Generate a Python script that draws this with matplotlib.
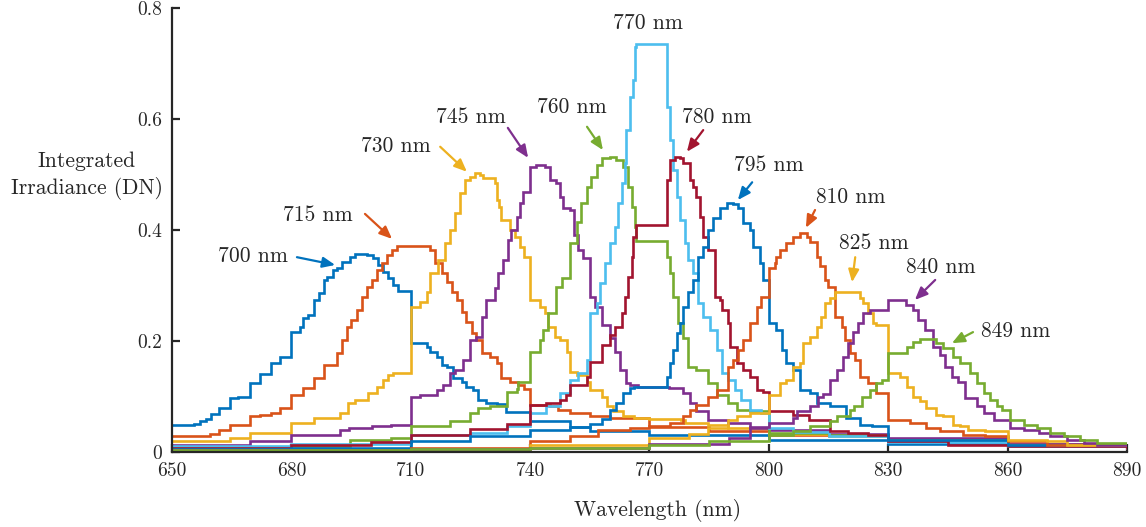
import matplotlib
matplotlib.use("Agg")
import matplotlib.pyplot as plt

plt.rcParams['font.family'] = ['cmr10', 'DejaVu Serif']
plt.rcParams['axes.formatter.use_mathtext'] = True

# ---- data: (wavelength nm, integrated irradiance) stair breakpoints ----
s700 = [(650, 0.048), (655.5, 0.050), (657, 0.055), (658.5, 0.060), (659.8, 0.068), (661.7, 0.079),
        (664.7, 0.097), (666.5, 0.100), (669.7, 0.125), (672.2, 0.140), (675, 0.160), (677.2, 0.172),
        (680, 0.217), (682.2, 0.226), (683, 0.241), (684.3, 0.247), (685.6, 0.274), (686.9, 0.286),
        (688.1, 0.310), (689, 0.316), (690.5, 0.328), (691.5, 0.331), (692.7, 0.343), (694.7, 0.352),
        (696, 0.357), (699, 0.355), (700.5, 0.349), (701.8, 0.337), (703.1, 0.325), (704.4, 0.313),
        (705.6, 0.301), (706.9, 0.290), (710, 0.196), (714, 0.190), (714.8, 0.180), (716.5, 0.172),
        (717.8, 0.157), (719, 0.154), (720.7, 0.133), (722.8, 0.127), (724, 0.118), (725.7, 0.112),
        (727, 0.094), (729, 0.088), (731.6, 0.086), (734, 0.072), (740, 0.055), (750, 0.045),
        (755, 0.038), (770, 0.030), (800, 0.021), (830, 0.015), (860, 0.010), (890, 0.010)]
s715 = [(650, 0.029), (659.6, 0.033), (661.7, 0.039), (664.7, 0.048), (669.7, 0.064), (672.2, 0.067),
        (675, 0.070), (677.2, 0.079), (680, 0.103), (683, 0.115), (685.6, 0.133), (688.1, 0.157),
        (691.4, 0.178), (692.6, 0.202), (693.9, 0.226), (695.1, 0.238), (696.4, 0.256), (697.7, 0.280),
        (698.9, 0.298), (700.2, 0.310), (701.4, 0.328), (702.7, 0.340), (704, 0.355), (705.2, 0.364),
        (706.5, 0.372), (714.8, 0.364), (716, 0.340), (717.8, 0.322), (719, 0.307), (720.3, 0.289),
        (721.5, 0.274), (722.8, 0.253), (724, 0.235), (725.3, 0.214), (726.5, 0.202), (727.8, 0.178),
        (729.9, 0.172), (731.6, 0.160), (732.8, 0.133), (734.9, 0.127), (737, 0.121), (738.5, 0.114),
        (740, 0.085), (745, 0.082), (747, 0.076), (750, 0.070), (755, 0.064), (760, 0.062),
        (770, 0.045), (785, 0.038), (800, 0.030), (830, 0.022), (860, 0.015), (890, 0.015)]
s730 = [(650, 0.019), (664.7, 0.025), (669.7, 0.035), (680, 0.052), (685.6, 0.061), (692.2, 0.070),
        (694.3, 0.088), (696, 0.094), (699.3, 0.106), (701.4, 0.118), (703.1, 0.130), (704.4, 0.139),
        (705.6, 0.142), (710, 0.262), (712.3, 0.271), (714, 0.289), (714.8, 0.322), (716.9, 0.346),
        (718.6, 0.376), (719.9, 0.400), (721.1, 0.430), (722.4, 0.466), (723.6, 0.490), (724.9, 0.496),
        (726.1, 0.502), (727.4, 0.500), (728.2, 0.494), (731.2, 0.484), (731.6, 0.454), (732.2, 0.442),
        (732.8, 0.418), (734.9, 0.400), (736.2, 0.388), (737.4, 0.370), (738.5, 0.352), (740, 0.274),
        (742.5, 0.262), (743.7, 0.250), (744.6, 0.226), (746.2, 0.208), (747.5, 0.202), (749.2, 0.181),
        (750, 0.145), (751.7, 0.139), (754.2, 0.127), (755, 0.112), (758, 0.100), (759.2, 0.082),
        (760.9, 0.073), (763.4, 0.064), (766, 0.061), (770, 0.060), (778, 0.058), (779, 0.052),
        (784.8, 0.049), (789.8, 0.043), (800, 0.033), (815, 0.028), (830, 0.022), (860, 0.015),
        (890, 0.012)]
s745 = [(650, 0.0125), (669.7, 0.019), (680, 0.031), (692.2, 0.040), (694.4, 0.043), (700.3, 0.047),
        (705, 0.049), (710, 0.100), (712.3, 0.103), (716.5, 0.112), (718.2, 0.121), (719.9, 0.142),
        (721.1, 0.148), (723.2, 0.166), (724.9, 0.202), (726.5, 0.208), (727.8, 0.244), (729, 0.274),
        (731.2, 0.295), (732, 0.322), (733.3, 0.346), (734.5, 0.382), (735.3, 0.400), (736.6, 0.424),
        (737.4, 0.448), (738.3, 0.469), (740, 0.514), (741.6, 0.517), (743.7, 0.514), (745, 0.490),
        (746.6, 0.484), (747.5, 0.460), (748.3, 0.439), (750, 0.436), (751, 0.391), (752.1, 0.364),
        (753.4, 0.349), (755, 0.280), (756.3, 0.262), (758, 0.229), (760, 0.205), (761.3, 0.181),
        (762.6, 0.148), (764.2, 0.124), (765.1, 0.121), (767, 0.118), (775, 0.115), (778.5, 0.106),
        (780.2, 0.088), (781.8, 0.073), (784.8, 0.058), (789.8, 0.052), (795.2, 0.043), (800, 0.040),
        (815, 0.033), (830, 0.025), (860, 0.015), (890, 0.010)]
s760 = [(650, 0.007), (680, 0.010), (694.7, 0.022), (705, 0.025), (710, 0.046), (719.9, 0.055),
        (724.9, 0.070), (727, 0.079), (730, 0.082), (734.1, 0.109), (736.6, 0.114), (737, 0.127),
        (740, 0.181), (742.5, 0.202), (743.3, 0.220), (744.6, 0.250), (746.6, 0.298), (748, 0.313),
        (750, 0.376), (751.7, 0.415), (752.9, 0.448), (754.2, 0.478), (755.4, 0.496), (756.7, 0.517),
        (758, 0.529), (760, 0.532), (761.7, 0.526), (763.4, 0.514), (764.7, 0.478), (765.5, 0.442),
        (766.3, 0.406), (766.7, 0.381), (774.3, 0.352), (775.1, 0.322), (776, 0.280), (777.2, 0.232),
        (778.5, 0.205), (779.7, 0.154), (781.8, 0.148), (784.8, 0.124), (786.9, 0.102), (789.8, 0.088),
        (791.9, 0.076), (795.2, 0.073), (800, 0.035), (815, 0.030), (830, 0.022), (860, 0.012),
        (890, 0.008)]
s770 = [(650, 0.010), (680, 0.014), (710, 0.030), (724.9, 0.034), (734.1, 0.046), (740, 0.070),
        (744.1, 0.082), (747.5, 0.106), (750, 0.130), (752, 0.142), (754.2, 0.166), (755, 0.250),
        (756.7, 0.268), (757.5, 0.304), (758.8, 0.340), (760, 0.376), (761.3, 0.406), (762.1, 0.448),
        (763, 0.484), (763.8, 0.520), (764.2, 0.580), (765.1, 0.640), (765.9, 0.670), (766.3, 0.730),
        (766.7, 0.736), (774.3, 0.622), (775.1, 0.562), (776, 0.508), (776.8, 0.460), (777.6, 0.418),
        (778.9, 0.376), (779.7, 0.346), (781, 0.322), (782.2, 0.268), (783.5, 0.244), (785.2, 0.220),
        (786.9, 0.184), (788.1, 0.142), (789.8, 0.130), (791.5, 0.112), (793.1, 0.094), (795.2, 0.076),
        (798, 0.070), (800, 0.043), (806, 0.036), (815, 0.028), (830, 0.018), (860, 0.010),
        (890, 0.008)]
s780 = [(650, 0.008), (680, 0.012), (700, 0.018), (710, 0.031), (724.9, 0.042), (734.1, 0.050),
        (740, 0.085), (744.1, 0.088), (747.5, 0.094), (749, 0.103), (750, 0.120), (754.2, 0.136),
        (755, 0.163), (758, 0.193), (760, 0.211), (761.3, 0.226), (763, 0.250), (763.8, 0.280),
        (764.7, 0.316), (765.5, 0.352), (765.9, 0.388), (766.7, 0.409), (774.3, 0.490), (775.1, 0.526),
        (776.4, 0.532), (777.6, 0.529), (778.5, 0.520), (780.2, 0.490), (781, 0.478), (781.8, 0.460),
        (782.7, 0.424), (783.5, 0.388), (784.8, 0.364), (786.4, 0.280), (787.7, 0.274), (788.1, 0.256),
        (789.8, 0.232), (790.2, 0.190), (791.9, 0.160), (793.5, 0.148), (795.2, 0.136), (796.9, 0.112),
        (798.6, 0.109), (800, 0.073), (806.1, 0.067), (810, 0.058), (815.3, 0.037), (820, 0.034),
        (825, 0.031), (830, 0.019), (845, 0.012), (860, 0.010), (890, 0.008)]
s795 = [(650, 0.006), (680, 0.008), (710, 0.019), (724.9, 0.028), (740, 0.040), (750, 0.045),
        (755, 0.050), (758, 0.060), (760, 0.076), (761.7, 0.088), (763.4, 0.106), (765.1, 0.115),
        (766, 0.117), (774.3, 0.136), (775.1, 0.160), (776, 0.184), (776.8, 0.214), (777.6, 0.232),
        (778.5, 0.262), (779.7, 0.289), (781, 0.310), (782.2, 0.352), (783.5, 0.370), (784.8, 0.400),
        (786, 0.421), (787.7, 0.439), (789.4, 0.448), (791, 0.447), (792.3, 0.439), (793.5, 0.412),
        (795.2, 0.400), (796, 0.370), (797.7, 0.340), (798.6, 0.310), (800, 0.232), (801.9, 0.220),
        (803.2, 0.184), (804.4, 0.160), (806.1, 0.148), (807.8, 0.112), (810.3, 0.106), (812, 0.088),
        (815.3, 0.082), (819.5, 0.061), (822.9, 0.049), (826, 0.046), (830, 0.022), (860, 0.013),
        (890, 0.012)]
s810 = [(650, 0.004), (710, 0.008), (740, 0.020), (750, 0.028), (757, 0.040), (765, 0.044),
        (770, 0.046), (775.1, 0.052), (778.5, 0.064), (780.2, 0.076), (781.8, 0.085), (784.8, 0.100),
        (786.9, 0.112), (789.8, 0.154), (791, 0.166), (792.3, 0.184), (793.5, 0.202), (795.2, 0.232),
        (796.9, 0.262), (798.1, 0.280), (800, 0.331), (801.5, 0.340), (801.9, 0.352), (802.8, 0.364),
        (804.4, 0.376), (806.1, 0.388), (807.8, 0.394), (809.5, 0.388), (810.3, 0.379), (812, 0.352),
        (812.8, 0.335), (814.1, 0.310), (814.9, 0.298), (816.6, 0.244), (818.3, 0.226), (819.1, 0.202),
        (820.3, 0.178), (821.6, 0.166), (822.9, 0.136), (825, 0.124), (827, 0.106), (830, 0.058),
        (835.4, 0.052), (839.6, 0.043), (843, 0.037), (848.8, 0.031), (854.2, 0.028), (860, 0.019),
        (870, 0.013), (890, 0.012)]
s825 = [(650, 0.003), (710, 0.006), (740, 0.012), (770, 0.025), (780, 0.033), (784.8, 0.043),
        (789.8, 0.058), (791.9, 0.064), (795.2, 0.070), (800, 0.102), (802.8, 0.124), (804.4, 0.130),
        (806.1, 0.154), (807.8, 0.160), (808.6, 0.196), (810.3, 0.208), (812, 0.226), (813, 0.244),
        (814.1, 0.268), (815.3, 0.277), (816.5, 0.289), (822.9, 0.277), (823.7, 0.268), (825, 0.250),
        (826.2, 0.232), (827, 0.229), (830, 0.142), (832.9, 0.136), (834.6, 0.118), (836.3, 0.100),
        (837.9, 0.091), (839.6, 0.079), (842.1, 0.067), (843.8, 0.064), (846.3, 0.049), (848, 0.046),
        (850, 0.040), (854.2, 0.037), (860, 0.022), (870, 0.019), (875, 0.013), (890, 0.012)]
s840 = [(650, 0.003), (710, 0.005), (740, 0.008), (770, 0.015), (790, 0.025), (795.2, 0.045),
        (800, 0.052), (806.1, 0.061), (807, 0.073), (810.3, 0.082), (812.4, 0.100), (813.6, 0.105),
        (815.3, 0.130), (817, 0.148), (818.7, 0.172), (819.9, 0.196), (821.2, 0.217), (822.4, 0.232),
        (823.7, 0.250), (825.4, 0.256), (830, 0.274), (834.5, 0.265), (836.3, 0.256), (837.5, 0.238),
        (839.2, 0.220), (841.3, 0.190), (843, 0.175), (844.2, 0.154), (845.9, 0.136), (847.6, 0.127),
        (849.2, 0.097), (852.3, 0.082), (854, 0.070), (856.5, 0.058), (860.6, 0.043), (864, 0.040),
        (867.8, 0.034), (870.7, 0.028), (874.9, 0.022), (879.1, 0.016), (882.4, 0.013), (890, 0.013)]
s849 = [(650, 0.003), (710, 0.005), (740, 0.008), (770, 0.012), (785, 0.020), (800, 0.031),
        (806, 0.037), (810.3, 0.046), (815.3, 0.055), (817, 0.064), (820.3, 0.076), (821.5, 0.082),
        (823.3, 0.100), (825.4, 0.112), (827, 0.124), (828.5, 0.130), (830, 0.178), (834.6, 0.190),
        (836.3, 0.199), (837.9, 0.203), (842.1, 0.196), (843.8, 0.187), (846.3, 0.172), (848, 0.160),
        (850.5, 0.142), (852.3, 0.124), (854, 0.106), (855.6, 0.094), (857.3, 0.082), (858.5, 0.076),
        (860.6, 0.058), (864, 0.049), (867.4, 0.043), (870.7, 0.034), (874.1, 0.028), (878.2, 0.022),
        (882.4, 0.016), (890, 0.016)]

series = [s700, s715, s730, s745, s760, s770, s780, s795, s810, s825, s840, s849]
labels = ['700 nm', '715 nm', '730 nm', '745 nm', '760 nm', '770 nm',
          '780 nm', '795 nm', '810 nm', '825 nm', '840 nm', '849 nm']
colors = ['#0072BD', '#D95319', '#EDB120', '#7E2F8E', '#77AC30', '#4DBEEE',
          '#A2142F', '#0072BD', '#D95319', '#EDB120', '#7E2F8E', '#77AC30']

# annotation anchors (data coords): text centre, arrow tail, arrow head
text_pos = [(670.4, 0.353), (686.7, 0.427), (706.3, 0.551), (725.1, 0.604), (750.5, 0.622),
            (769.6, 0.773), (787.0, 0.604), (800.0, 0.517), (820.6, 0.459), (826.4, 0.377),
            (843.3, 0.332), (862.1, 0.218)]
arrow_tail = [(681.4, 0.351), (698.5, 0.429), (717.4, 0.550), (734.4, 0.584), (754.3, 0.586),
              None, (783.5, 0.580), (795.8, 0.486), (811.6, 0.436), (821.7, 0.351),
              (841.8, 0.310), (851.3, 0.216)]
arrow_head = [(691.0, 0.337), (705.3, 0.384), (724.1, 0.505), (739.5, 0.530), (758.3, 0.544),
              None, (779.4, 0.541), (792.2, 0.454), (809.3, 0.404), (820.9, 0.306),
              (836.7, 0.274), (846.0, 0.196)]

xticks = [650, 680, 710, 740, 770, 800, 830, 860, 890]
yticks = [0, 0.2, 0.4, 0.6, 0.8]
yticklabels = ['0', '0.2', '0.4', '0.6', '0.8']

fig = plt.figure(figsize=(11.46, 5.27), dpi=100)
ax = fig.add_axes([172 / 1146, 75 / 527, 955 / 1146, 444 / 527])

for s, c in zip(series, colors):
    xs = [p[0] for p in s]
    ys = [p[1] for p in s]
    ax.step(xs, ys, where='post', color=c, lw=1.9, solid_joinstyle='miter')

for lab, c, tp, ta, th in zip(labels, colors, text_pos, arrow_tail, arrow_head):
    ax.text(tp[0], tp[1], lab, ha='center', va='center', fontsize=15.5, color='#262626')
    if ta is not None:
        ax.annotate('', xy=th, xytext=ta,
                    arrowprops=dict(arrowstyle='-|>,head_length=0.75,head_width=0.32', color=c, lw=1.6,
                                    mutation_scale=10, shrinkA=0, shrinkB=0))

ax.set_xlim(650, 890)
ax.set_ylim(0, 0.8)
ax.set_xticks(xticks)
ax.set_xticklabels([str(v) for v in xticks])
ax.set_yticks(yticks)
ax.set_yticklabels(yticklabels)
for side in ['top', 'right']:
    ax.spines[side].set_visible(False)
for side in ['left', 'bottom']:
    ax.spines[side].set_linewidth(1.6)
    ax.spines[side].set_color('#262626')
ax.tick_params(direction='in', length=6, width=1.6, color='#262626',
               labelsize=14, labelcolor='#262626', pad=7)

ax.set_xlabel('Wavelength (nm)', fontsize=15.5, color='#262626', va='center')
ax.xaxis.set_label_coords(0.508, -0.132)
ax.set_ylabel('Integrated\nIrradiance (DN)', fontsize=15.5, color='#262626',
              rotation=0, ha='center', va='center', linespacing=1.4)
ax.yaxis.set_label_coords(-0.089, 0.622)

fig.savefig('out.png', dpi=100)
